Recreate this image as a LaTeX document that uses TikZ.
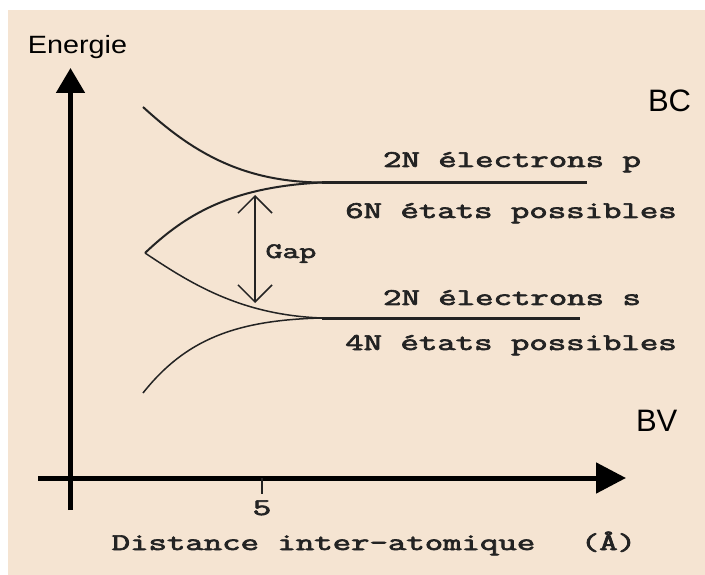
\documentclass[tikz,border=0pt]{standalone}
\usepackage{fontspec}
\setmainfont{Liberation Sans}
\setsansfont{Liberation Sans}
\newfontfamily\courfont{Latin Modern Mono}[FakeBold=2.5]
\usetikzlibrary{arrows.meta}
\definecolor{bg}{RGB}{245,228,210}
\definecolor{ink}{RGB}{35,35,35}
\begin{document}
\begin{tikzpicture}[x=1pt,y=-1pt,
  mono/.style={font=\fontsize{24}{24}\selectfont\courfont, xscale=1.49, inner sep=0pt, outer sep=0pt, anchor=base, text=ink},
  sans/.style={font=\fontsize{25}{25}\selectfont\sffamily, xscale=1.15, inner sep=0pt, outer sep=0pt, anchor=base, text=black},
  big/.style={font=\fontsize{31}{31}\selectfont\sffamily, inner sep=0pt, outer sep=0pt, anchor=base west, text=black},
  axis/.style={line width=5pt, black},
  band/.style={line width=2pt, ink},
  bandthin/.style={line width=1.5pt, ink},
  level/.style={line width=3pt, ink},
  gaparrow/.style={line width=1.5pt, ink, {Straight Barb[length=17pt,width=34pt]}-{Straight Barb[length=17pt,width=34pt]}},
  tick/.style={line width=1.5pt, ink}]
\useasboundingbox (0,0) rectangle (705,575);
\fill[white] (0,0) rectangle (705,575);
\fill[bg] (8,10) rectangle (705,575);

% axes
\coordinate (yb) at (70.5,510);
\coordinate (yt) at (70.5,68);
\coordinate (xl) at (38,478);
\coordinate (xr) at (626,478);
\draw[axis, -{Triangle[length=25pt,width=28pt]}] (yb) -- (yt);
\draw[axis, -{Triangle[length=30pt,width=30pt]}] (xl) -- (xr);
\coordinate (t5a) at (262,478);
\coordinate (t5b) at (262,494);
\draw[tick] (t5a) -- (t5b);

% bands
\coordinate (apex) at (145,253);
\coordinate (ctop) at (143,107);
\coordinate (cbot) at (143,393);
\coordinate (pm) at (322,182.5);
\coordinate (pe) at (587,182.5);
\coordinate (sm) at (322,318);
\coordinate (se) at (580,318);
\draw[band] (ctop) .. controls (190,150) and (240,182) .. (pm);
\draw[band] (apex) .. controls (185,215) and (230,187) .. (pm);
\draw[bandthin] (apex) .. controls (190,283) and (240,315) .. (sm);
\draw[bandthin] (cbot) .. controls (185,340) and (235,320) .. (sm);
\draw[level] (pm) -- (pe);
\draw[level] (sm) -- (se);

% gap
\coordinate (gt) at (255,195);
\coordinate (gb) at (255,303);
\draw[gaparrow] (gb) -- (gt);
\node[mono, font=\fontsize{22}{22}\selectfont\courfont] (gap) at (291,258) {Gap};

% labels
\node[sans] (en) at (77.5,54) {Energie};
\node[big] (bc) at (648,112) {BC};
\node[big] (bv) at (636,431) {BV};
\node[mono] (ep) at (512,167) {2N électrons p};
\node[mono] (sp) at (511,218) {6N états possibles};
\node[mono] (es) at (512,305) {2N électrons s};
\node[mono] (ss) at (511,350) {4N états possibles};
\node[mono] (five) at (262,515) {5};
\node[mono] (dist) at (323.5,550) {Distance inter-atomique};
\node[mono] (ang) at (608.5,550) {(Å)};
\end{tikzpicture}
\end{document}
